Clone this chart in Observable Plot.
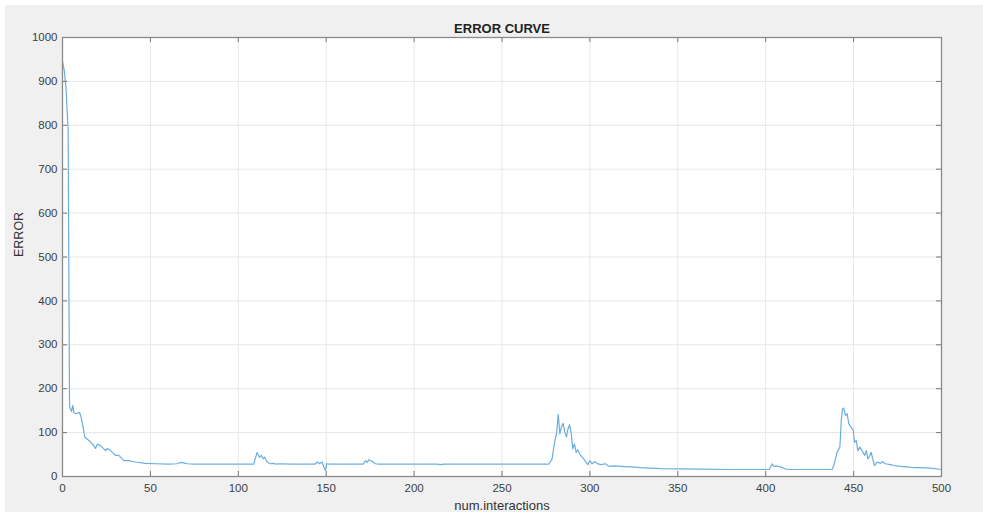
<!DOCTYPE html>
<html><head><meta charset="utf-8">
<script src="https://cdn.jsdelivr.net/npm/d3@7"></script>
<script src="https://cdn.jsdelivr.net/npm/@observablehq/plot@0.6"></script>
<style>
html,body{margin:0;padding:0;background:#fff;}
#chart{position:absolute;left:5px;top:5px;}
</style></head><body><div id="chart"></div>
<script>
const iterations = [0,1,2,3.2,4,5.1,5.9,6.4,7.8,9.7,10.8,12.7,15,16.9,18.8,19.7,21.6,24.5,25.4,27.3,30.1,32,34.9,37.5,41.5,47.2,52.9,60,65,67,69,71,75,90,108.8,110.7,112,113.2,114.2,115,116.4,118.3,120.2,121.5,123,130,143.5,144.9,146.2,147.7,148.7,149.6,150.2,152,171,172.4,173.3,174.2,176.2,178,180,213,215,217,276.6,278.5,279.9,281,282,282.9,283.7,284.8,285.7,286.7,287.4,288.4,289.3,290.3,291.2,292.2,293.1,294.7,296.5,298.8,300,301.3,302.6,304.1,306,308.9,310.8,313.6,317.4,323,328.8,340,363,380,402,403.7,404.6,406.5,408.4,411.3,415,437.8,438.7,440.6,442.2,443,443.7,444.4,445.4,446.3,447.3,448.6,449.8,450.5,451.5,452.4,453.5,454.8,456.3,457.2,458.1,459.2,460,460.9,461.9,463.4,465.3,466.3,468.1,471,472.9,476.7,480.5,484.2,488,493.7,500];
const errors = [945,925,885,790,160,148,162,146,143,146,132,90,82,75,64,73,71,59,64,59,48,48,36,36,33,30,29,28,29,32,31,29,28,28,28,55,44,48,40,44,33,29,30,28,29,28,28,33,29,33,21,14,29,28,28,36,32,38,34,29,28,28,27,28,28,40,78,97,141,97,112,121,101,90,106,118,101,63,74,55,61,48,40,27,36,29,34,30,27,29,23,24,23,22,20,18,17,16,16,29,23,24,22,17,16,16,25,55,67,128,154,156,139,143,120,112,105,78,82,59,67,59,48,59,40,48,55,40,25,33,30,34,29,27,25,23,22,20,20,19,16];
const xTicks = [0,50,100,150,200,250,300,350,400,450,500];
const yTicks = [0,100,200,300,400,500,600,700,800,900,1000];
const title = "ERROR CURVE";
const xLabel = "num.interactions";
const yLabel = "ERROR";

const data = iterations.map((x, i) => ({x, y: errors[i]}));
const W = 978, H = 507, mL = 57, mR = 42, mT = 32, mB = 36;
const pw = W - mL - mR, ph = H - mT - mB;
const font = "'Liberation Sans', Arial, Helvetica, sans-serif";
const chart = Plot.plot({
  width: W, height: H,
  marginLeft: mL, marginRight: mR, marginTop: mT, marginBottom: mB,
  style: {background: "#f0f0f0", fontFamily: font, fontSize: "11.5px", color: "#404040"},
  x: {domain: [0, 500]},
  y: {domain: [0, 1000]},
  marks: [
    Plot.frame({fill: "white", stroke: null}),
    Plot.gridX(xTicks, {stroke: "#e6e6e6", strokeOpacity: 1}),
    Plot.gridY(yTicks, {stroke: "#e6e6e6", strokeOpacity: 1}),
    Plot.line(data, {x: "x", y: "y", stroke: "#6aaee0", strokeWidth: 1.2}),
    Plot.tickX(xTicks, {x: d => d, insetTop: ph - 5, stroke: "#777"}),
    Plot.tickX(xTicks, {x: d => d, insetBottom: ph - 5, stroke: "#777"}),
    Plot.tickY(yTicks, {y: d => d, insetRight: pw - 5, stroke: "#777"}),
    Plot.tickY(yTicks, {y: d => d, insetLeft: pw - 5, stroke: "#777"}),
    Plot.frame({stroke: "#8a8a8a", strokeWidth: 1.3}),
    Plot.axisX({ticks: xTicks, tickFormat: d => String(d), tickSize: 0, tickPadding: 7, label: null, fill: "#404040"}),
    Plot.axisY({ticks: yTicks, tickFormat: d => String(d), tickSize: 0, tickPadding: 5, label: null, fill: "#404040"}),
    Plot.text([title], {text: d => d, frameAnchor: "top", lineAnchor: "middle", dy: -9, fontWeight: "bold", fontSize: 13, fill: "#222"}),
    Plot.text([xLabel], {text: d => d, frameAnchor: "bottom", lineAnchor: "middle", dy: 29, fontSize: 13, fill: "#333"}),
    Plot.text([yLabel], {text: d => d, frameAnchor: "left", lineAnchor: "middle", dx: -44, rotate: -90, fontSize: 12.5, fill: "#333"})
  ]
});
document.getElementById("chart").appendChild(chart);
</script>
</body></html>
